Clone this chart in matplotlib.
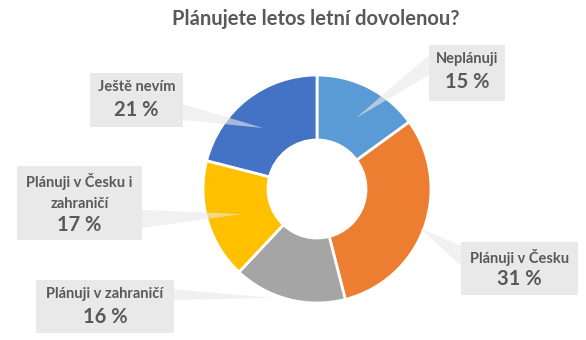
import matplotlib.pyplot as plt
from matplotlib.patches import Polygon, Rectangle

categories = ["Neplánuji", "Plánuji v Česku", "Plánuji v zahraničí",
              "Plánuji v Česku i\nzahraničí", "Ještě nevím"]
values = [15, 31, 16, 17, 21]
colors = ["#5B9BD5", "#ED7D31", "#A5A5A5", "#FFC000", "#4472C4"]

H = 340


def py(y):
    # pixel row from the top -> data y
    return H - y


fig = plt.figure(figsize=(5.86, 3.4), dpi=100)
ax = fig.add_axes([0, 0, 1, 1])

ax.pie(values, colors=colors, startangle=90, counterclock=False,
       center=(317, py(189)), radius=114, frame=True,
       wedgeprops=dict(width=114 * 0.57, edgecolor="white", linewidth=2))

ax.set_xlim(0, 586)
ax.set_ylim(0, H)
ax.set_aspect("auto")
ax.axis("off")

ax.text(316, py(19), "Plánujete letos letní dovolenou?", ha="center", va="center",
        fontsize=14.5, fontweight="bold", color="#595959", family="Lato")

# label boxes: (left, top, right, bottom), leader base y-range, leader tip
boxes = [
    ((429, 45, 505, 101), "left", (55, 75), (356, 118)),
    ((461, 242, 578, 295), "left", (246, 266), (420, 228)),
    ((36, 280, 174, 333), "right", (289, 300), (273, 298)),
    ((17, 166, 142, 240), "right", (210, 228), (242, 214)),
    ((90, 73, 183, 127), "right", (104, 120), (263, 128)),
]
box_col = "#E9E9E9"

for (l, t, r, b), side, (y1, y2), (tx, ty) in boxes:
    bx = l if side == "left" else r
    ax.add_patch(Polygon([(bx, py(y1)), (bx, py(y2)), (tx, py(ty))],
                         closed=True, fc=box_col, ec="none", alpha=0.6, zorder=3))
    ax.add_patch(Rectangle((l, py(b)), r - l, b - t, fc=box_col, ec="none", zorder=4))

for (box, side, base, tip), cat, v in zip(boxes, categories, values):
    l, t, r, b = box
    cx = (l + r) / 2
    nlines = cat.count("\n") + 1
    top = t + 7
    ax.text(cx, py(top), cat, ha="center", va="top", fontsize=10.5, fontweight="bold",
            color="#595959", family="Lato", linespacing=1.65, zorder=5)
    ax.text(cx, py(top + 18 + 22 * (nlines - 1) + 2), f"{v} %", ha="center", va="top",
            fontsize=14.5, fontweight="bold", color="#595959", family="Lato", zorder=5)

fig.savefig("out.png", dpi=100, facecolor="white")
